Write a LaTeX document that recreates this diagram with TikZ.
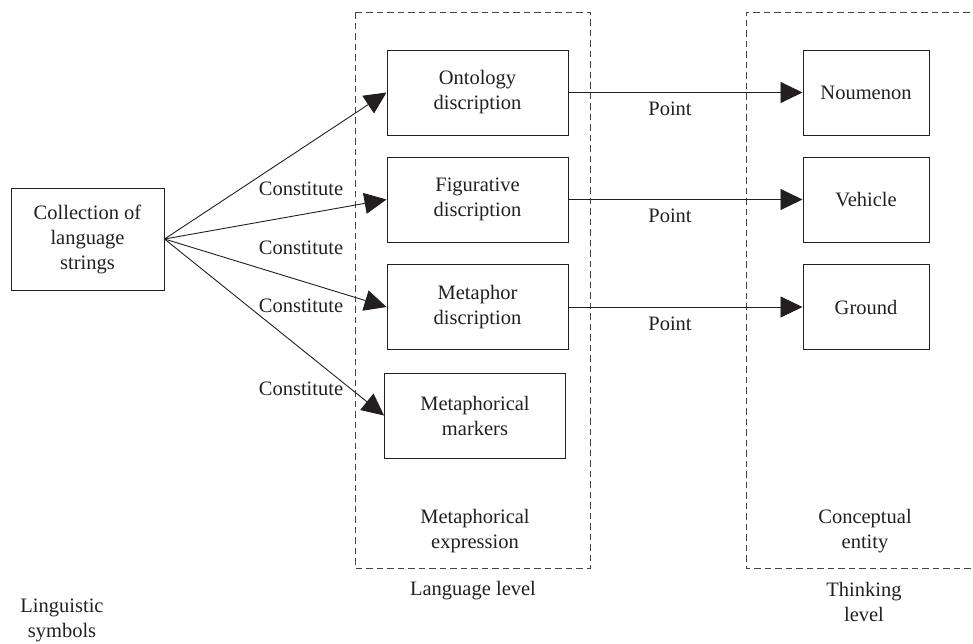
\documentclass[tikz,border=0pt]{standalone}
\usepackage{fontspec}
\setmainfont{Liberation Serif}
\usetikzlibrary{arrows.meta}
\definecolor{ink}{HTML}{231F20}
\definecolor{frame}{HTML}{444444}
\begin{document}
\begin{tikzpicture}[x=1pt,y=-1pt,
  every node/.style={text=ink,font=\fontsize{20.5}{25}\selectfont},
  box/.style={draw=ink,line width=1pt,minimum width=181pt,minimum height=85pt,align=center,inner sep=0pt},
  rbox/.style={draw=ink,line width=1pt,minimum width=126pt,minimum height=85pt,align=center,inner sep=0pt},
  group/.style={draw=frame,line width=1pt,dash pattern=on 6.5pt off 4pt},
  link/.style={draw=ink,line width=0.9pt,-{Triangle[length=22pt,width=21pt]}},
  lbl/.style={anchor=base,inner sep=0pt},
  caption/.style={align=center,inner sep=0pt}]
\useasboundingbox (0,0) rectangle (973,643);

% dashed level frames
\draw[group] (355,12) rectangle (590,568);
\draw[group] (980,12) -- (746,12) -- (746,568) -- (980,568);

% source
\node[draw=ink,line width=1pt,minimum width=153pt,minimum height=102pt,align=center,inner sep=0pt]
  (coll) at (87.5,239) {Collection of\\language\\strings};

% language level boxes
\node[box] (ont) at (477.5,92.5) {Ontology\\discription};
\node[box] (fig) at (477.5,199.5) {Figurative\\discription};
\node[box] (met) at (477.5,307) {Metaphor\\discription};
\node[box] (mrk) at (475,415.5) {Metaphorical\\markers};

% thinking level boxes
\node[rbox] (nou) at (866,92.5) {Noumenon};
\node[rbox] (veh) at (866,199.5) {Vehicle};
\node[rbox] (gro) at (866,307) {Ground};

% constitute connectors
\draw[link] (coll.east) -- (ont.west);
\draw[link] (coll.east) -- (fig.west);
\draw[link] (coll.east) -- (met.west);
\draw[link] (coll.east) -- (mrk.west);
\node[lbl] (c1) at (301,195) {Constitute};
\node[lbl] (c2) at (301,254) {Constitute};
\node[lbl] (c3) at (301,312) {Constitute};
\node[lbl] (c4) at (301,395) {Constitute};

% point connectors
\draw[link] (ont.east) -- (nou.west);
\draw[link] (fig.east) -- (veh.west);
\draw[link] (met.east) -- (gro.west);
\node[lbl] (p1) at (670,115) {Point};
\node[lbl] (p2) at (670,222) {Point};
\node[lbl] (p3) at (670,330) {Point};

% captions
\node[caption] (expr) at (475,531) {Metaphorical\\expression};
\node[caption] (ent) at (865,531) {Conceptual\\entity};
\node[lbl] (lang) at (473,595) {Language level};
\node[caption] (think) at (864,602) {Thinking\\level};
\node[caption] (ling) at (62,620) {Linguistic\\symbols};
\end{tikzpicture}
\end{document}
